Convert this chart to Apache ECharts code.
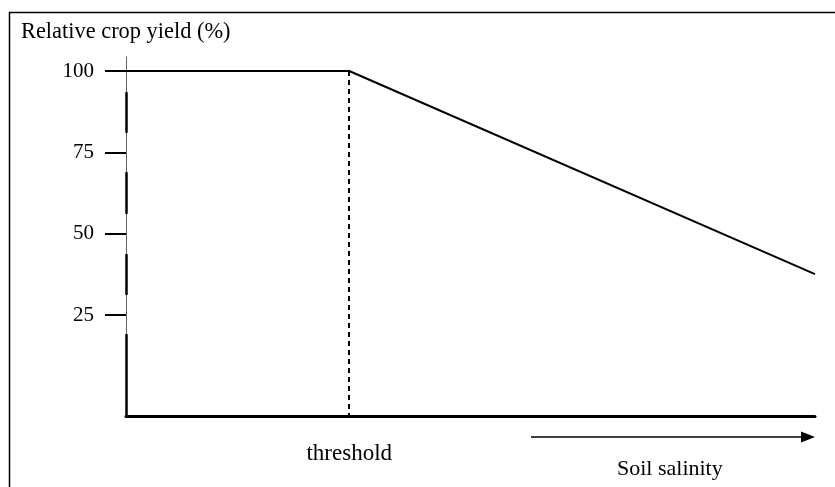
<!DOCTYPE html>
<html><head><meta charset="utf-8">
<script src="https://cdn.jsdelivr.net/npm/echarts@6/dist/echarts.min.js"></script>
<style>html,body{margin:0;padding:0;background:#fff}#c{width:835px;height:487px}</style>
</head><body><div id="c"></div>
<script>
// Data
const xRange = [0, 100];          // soil salinity (relative units)
const yRange = [-6, 104.3];        // relative crop yield (%)
const yTicks = [25, 50, 75, 100];
const threshold = 32.4;
const yieldX = [0, threshold, 100];
const yieldY = [100, 100, 37.6];
const yTitle = 'Relative crop yield (%)';
const xThresholdLabel = 'threshold';
const xTitle = 'Soil salinity';

const FONT = '"Liberation Serif", "Times New Roman", serif';
const chart = echarts.init(document.getElementById('c'));
chart.setOption({
  animation: false,
  backgroundColor: '#fff',
  title: {
    text: yTitle, left: 21, top: 21, padding: 0,
    textStyle: {fontFamily: FONT, fontSize: 22.4, fontWeight: 'normal', color: '#000'}
  },
  grid: {left: 126, right: 20, top: 57, bottom: 71, containLabel: false, outerBoundsMode: 'none'},
  xAxis: {
    type: 'value', min: xRange[0], max: xRange[1],
    splitLine: {show: false},
    axisLine: {onZero: false, lineStyle: {color: '#000', width: 3}},
    axisTick: {show: false},
    axisLabel: {
      customValues: [threshold], formatter: () => xThresholdLabel,
      fontFamily: FONT, fontSize: 23, color: '#000', margin: 26
    }
  },
  yAxis: [{
    type: 'value', min: yRange[0], max: yRange[1],
    splitLine: {show: false},
    axisLine: {show: true, onZero: false, lineStyle: {color: '#666', width: 1}},
    axisTick: {show: true, customValues: yTicks, length: 21, lineStyle: {color: '#000', width: 2}},
    axisLabel: {customValues: yTicks, fontFamily: FONT, fontSize: 21, color: '#000', margin: 32}
  }, {
    type: 'value', min: yRange[0], max: yRange[1], position: 'left', offset: 0,
    splitLine: {show: false},
    axisLine: {show: true, onZero: false, lineStyle: {color: '#000', width: 2.5, type: [81, 41, 39, 42, 40, 41, 39, 36]}},
    axisTick: {show: false}, axisLabel: {show: false}
  }],
  series: [{
    type: 'line',
    data: yieldX.map((x, i) => [x, yieldY[i]]),
    symbol: 'none',
    lineStyle: {color: '#000', width: 2},
    markLine: {
      silent: true, symbol: 'none', label: {show: false},
      lineStyle: {color: '#000', width: 2, type: [5, 4]},
      data: [[{coord: [threshold, yieldY[1]]}, {coord: [threshold, yRange[0]]}]]
    }
  }],
  graphic: [
    {type: 'rect', shape: {x: 9.5, y: 12.5, width: 1000, height: 1000}, style: {fill: 'none', stroke: '#000', lineWidth: 1.5}, z: 0},
    {type: 'line', shape: {x1: 531, y1: 437, x2: 803, y2: 437}, style: {stroke: '#000', lineWidth: 1.5}},
    {type: 'polygon', shape: {points: [[801, 431.5], [815, 437], [801, 442.5]]}, style: {fill: '#000'}},
    {type: 'text', left: 617, top: 458, style: {text: xTitle, font: '22px ' + FONT, fill: '#000'}}
  ]
});
</script></body></html>
